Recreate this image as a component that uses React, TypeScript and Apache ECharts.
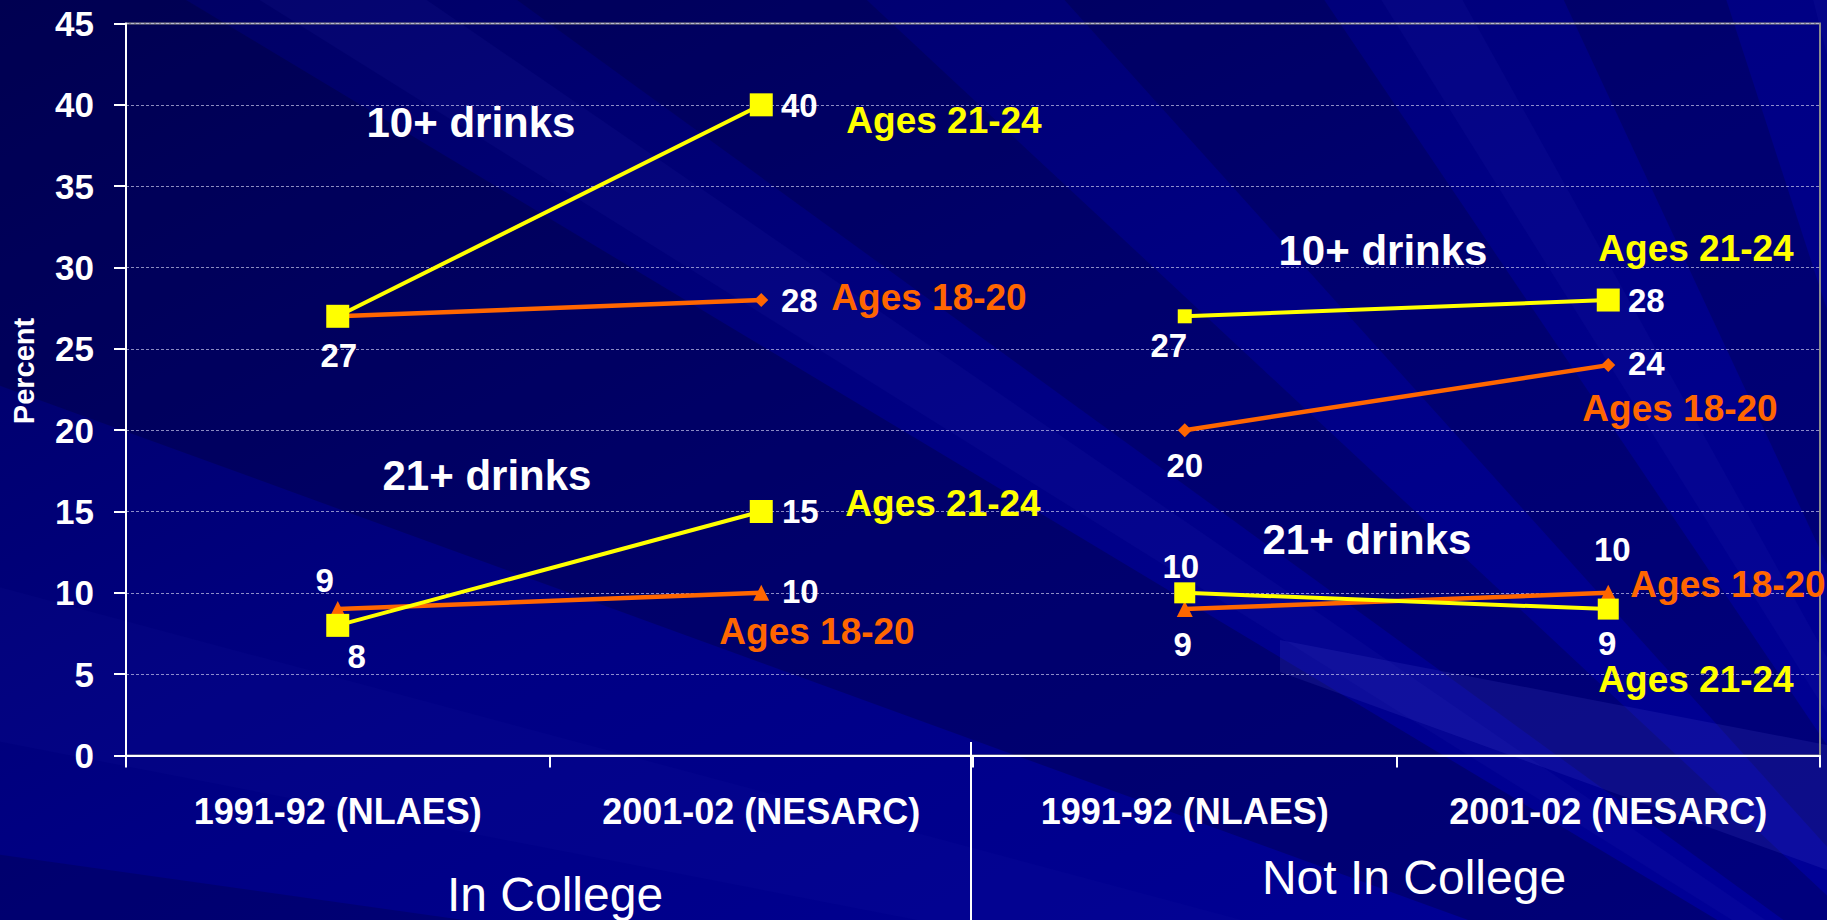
import React, { useEffect, useRef } from "react";
import * as echarts from "echarts";

// ---------- data ----------
const categories = ["1991-92 (NLAES)", "2001-02 (NESARC)", "1991-92 (NLAES)", "2001-02 (NESARC)"];
const groupNames = ["In College", "Not In College"];
const yMin = 0;
const yMax = 45;
const yStep = 5;
const tenPlusAges1820 = [27, 28, 20, 24];
const tenPlusAges2124 = [27, 40, 27, 28];
const twentyOnePlusAges1820 = [9, 10, 9, 10];
const twentyOnePlusAges2124 = [8, 15, 10, 9];

// ---------- styling ----------
const FONT = '"Liberation Sans", Arial, Helvetica, sans-serif';
const YELLOW = "#FFFF00";
const ORANGE = "#FF6600";
const WHITE = "#FFFFFF";

// label offsets (label centre relative to marker centre), per point
const offTen1820 = [null, [38, 0], [0, 35], [38, -1.5]];
const offTen2124 = [[1, 39], [38, 1], [-16, 29], [38, 0]];
const offTwenty1820 = [[-13, -29], [39, -1], [-2, 35], [4, -43]];
const offTwenty2124 = [[19, 31], [39, 0], [-4, -26], [-1, 34]];

const sizeTen1820 = [14, 14, 14, 14];
const sizeTen2124 = [23, 23, 14, 23];
const sizeTwenty1820 = [16, 16, 16, 16];
const sizeTwenty2124 = [23, 23, 21, 21];

function buildSeries(
  name: string,
  values: number[],
  offsets: (number[] | null)[],
  sizes: number[],
  color: string,
  symbol: string,
  width: number,
  z: number
) {
  const out: any[] = [];
  [0, 1].forEach((g) => {
    const data = values.map((v, i) => {
      if (Math.floor(i / 2) !== g) return "-";
      const off = offsets[i];
      return {
        value: v,
        symbolSize: sizes[i],
        label: off
          ? {
              show: true,
              position: "inside",
              offset: off,
              color: WHITE,
              fontSize: 33,
              lineHeight: 28,
              fontWeight: "bold",
              fontFamily: FONT,
              align: "center",
              verticalAlign: "middle",
            }
          : { show: false },
      };
    });
    out.push({
      name: name + " – " + groupNames[g],
      type: "line",
      data,
      symbol,
      showAllSymbol: true,
      connectNulls: false,
      z,
      lineStyle: { color, width },
      itemStyle: { color, borderWidth: 0 },
      emphasis: { disabled: true },
      silent: true,
    });
  });
  return out;
}

// annotation texts
const annotations = [
  { text: "10+ drinks", x: 471, y: 122, color: WHITE, size: 42 },
  { text: "21+ drinks", x: 487, y: 475, color: WHITE, size: 42 },
  { text: "Ages 21-24", x: 944, y: 120, color: YELLOW, size: 37 },
  { text: "Ages 18-20", x: 929, y: 297, color: ORANGE, size: 37 },
  { text: "Ages 21-24", x: 943, y: 503, color: YELLOW, size: 37 },
  { text: "Ages 18-20", x: 817, y: 631, color: ORANGE, size: 37 },
  { text: "10+ drinks", x: 1383, y: 250, color: WHITE, size: 42 },
  { text: "21+ drinks", x: 1367, y: 539, color: WHITE, size: 42 },
  { text: "Ages 21-24", x: 1696, y: 248, color: YELLOW, size: 37 },
  { text: "Ages 18-20", x: 1680, y: 408, color: ORANGE, size: 37 },
  { text: "Ages 18-20", x: 1728, y: 584, color: ORANGE, size: 37 },
  { text: "Ages 21-24", x: 1696, y: 679, color: YELLOW, size: 37 },
];

// background rays from lower right
const RAY_O = [2100, 1150];
const rays: { a1: number; a2: number; fill: string }[] = [
  { a1: 185, a2: 188, fill: "rgba(0,0,40,0.22)" },
  { a1: 191, a2: 195, fill: "rgba(40,40,190,0.07)" },
  { a1: 200, a2: 211, fill: "rgba(0,0,40,0.28)" },
  { a1: 212, a2: 214.5, fill: "rgba(60,60,210,0.08)" },
  { a1: 216, a2: 223, fill: "rgba(0,0,40,0.24)" },
  { a1: 228, a2: 236, fill: "rgba(0,0,40,0.24)" },
  { a1: 238, a2: 241, fill: "rgba(60,60,210,0.08)" },
  { a1: 245, a2: 252, fill: "rgba(0,0,40,0.24)" },
  { a1: 256, a2: 260, fill: "rgba(60,60,210,0.08)" },
];

function rayPoly(a1: number, a2: number) {
  const R = 4000;
  const r1 = (a1 * Math.PI) / 180;
  const r2 = (a2 * Math.PI) / 180;
  return [
    RAY_O,
    [RAY_O[0] + R * Math.cos(r1), RAY_O[1] + R * Math.sin(r1)],
    [RAY_O[0] + R * Math.cos(r2), RAY_O[1] + R * Math.sin(r2)],
  ];
}

export default function App() {
  const ref = useRef<HTMLDivElement>(null);

  useEffect(() => {
    if (!ref.current) return;
    const chart = echarts.init(ref.current, undefined, { renderer: "svg" });

    const series = [
      ...buildSeries("10+ drinks, Ages 18-20", tenPlusAges1820, offTen1820, sizeTen1820, ORANGE, "diamond", 4.5, 3),
      ...buildSeries("21+ drinks, Ages 18-20", twentyOnePlusAges1820, offTwenty1820, sizeTwenty1820, ORANGE, "triangle", 4.5, 3),
      ...buildSeries("10+ drinks, Ages 21-24", tenPlusAges2124, offTen2124, sizeTen2124, YELLOW, "rect", 4, 4),
      ...buildSeries("21+ drinks, Ages 21-24", twentyOnePlusAges2124, offTwenty2124, sizeTwenty2124, YELLOW, "rect", 4, 4),
    ];

    const graphic: any[] = [
      {
        type: "rect",
        silent: true,
        z: -100,
        shape: { x: 0, y: 0, width: 1827, height: 920 },
        style: {
          fill: new echarts.graphic.LinearGradient(0, 0, 1, 1, [
            { offset: 0, color: "#000062" },
            { offset: 0.5, color: "#000084" },
            { offset: 1, color: "#000098" },
          ]),
        },
      },
      ...rays.map((r) => ({
        type: "polygon",
        silent: true,
        z: -90,
        shape: { points: rayPoly(r.a1, r.a2) },
        style: { fill: r.fill },
      })),
      {
        type: "polygon",
        silent: true,
        z: -80,
        shape: { points: [[1280, 640], [1827, 745], [1827, 870], [1280, 672]] },
        style: { fill: "rgba(90,90,230,0.14)" },
      },
      {
        type: "line",
        silent: true,
        z: 20,
        shape: { x1: 971, y1: 742, x2: 971, y2: 920 },
        style: { stroke: WHITE, lineWidth: 2 },
      },
      {
        type: "text",
        silent: true,
        z: 20,
        x: 23.5,
        y: 371,
        rotation: Math.PI / 2,
        style: {
          text: "Percent",
          fill: WHITE,
          fontSize: 29,
          fontWeight: "bold",
          fontFamily: FONT,
          align: "center",
          verticalAlign: "middle",
          textAlign: "center",
          textVerticalAlign: "middle",
        },
      },
      {
        type: "text",
        silent: true,
        z: 20,
        x: 555,
        y: 894,
        style: {
          text: groupNames[0],
          fill: WHITE,
          fontSize: 48,
          fontFamily: FONT,
          align: "center",
          verticalAlign: "middle",
          textAlign: "center",
          textVerticalAlign: "middle",
        },
      },
      {
        type: "text",
        silent: true,
        z: 20,
        x: 1414,
        y: 877.5,
        style: {
          text: groupNames[1],
          fill: WHITE,
          fontSize: 48,
          fontFamily: FONT,
          align: "center",
          verticalAlign: "middle",
          textAlign: "center",
          textVerticalAlign: "middle",
        },
      },
      ...annotations.map((a) => ({
        type: "text",
        silent: true,
        z: 20,
        x: a.x,
        y: a.y,
        style: {
          text: a.text,
          fill: a.color,
          fontSize: a.size,
          lineHeight: Math.round(a.size * 0.85),
          fontWeight: "bold",
          fontFamily: FONT,
          align: "center",
          verticalAlign: "middle",
          textAlign: "center",
          textVerticalAlign: "middle",
        },
      })),
    ];

    chart.setOption({
      animation: false,
      backgroundColor: "transparent",
      grid: {
        left: 126,
        right: 7,
        top: 23.5,
        bottom: 164.5,
        show: true,
        borderColor: "#8c8c8c",
        borderWidth: 2,
        backgroundColor: "transparent",
      },
      xAxis: {
        type: "category",
        data: categories,
        boundaryGap: true,
        axisLine: { show: true, lineStyle: { color: WHITE, width: 2 } },
        axisTick: { show: true, interval: 0, length: 12, lineStyle: { color: WHITE, width: 2 } },
        axisLabel: {
          interval: 0,
          color: WHITE,
          fontFamily: FONT,
          fontWeight: "bold",
          fontSize: 36,
          margin: 38,
        },
        splitLine: { show: false },
      },
      yAxis: {
        type: "value",
        min: yMin,
        max: yMax,
        interval: yStep,
        axisLine: { show: true, lineStyle: { color: WHITE, width: 2 } },
        axisTick: { show: true, length: 12, lineStyle: { color: WHITE, width: 2 } },
        axisLabel: {
          color: WHITE,
          fontFamily: FONT,
          fontWeight: "bold",
          fontSize: 35,
          margin: 32,
        },
        splitLine: {
          show: true,
          lineStyle: { color: "rgba(200,200,235,0.7)", width: 1, type: [3, 2] },
        },
      },
      series,
      graphic,
    });

    return () => {
      chart.dispose();
    };
  }, []);

  return (
    <div
      ref={ref}
      style={{ position: "absolute", left: 0, top: 0, width: 1827, height: 920 }}
    />
  );
}
